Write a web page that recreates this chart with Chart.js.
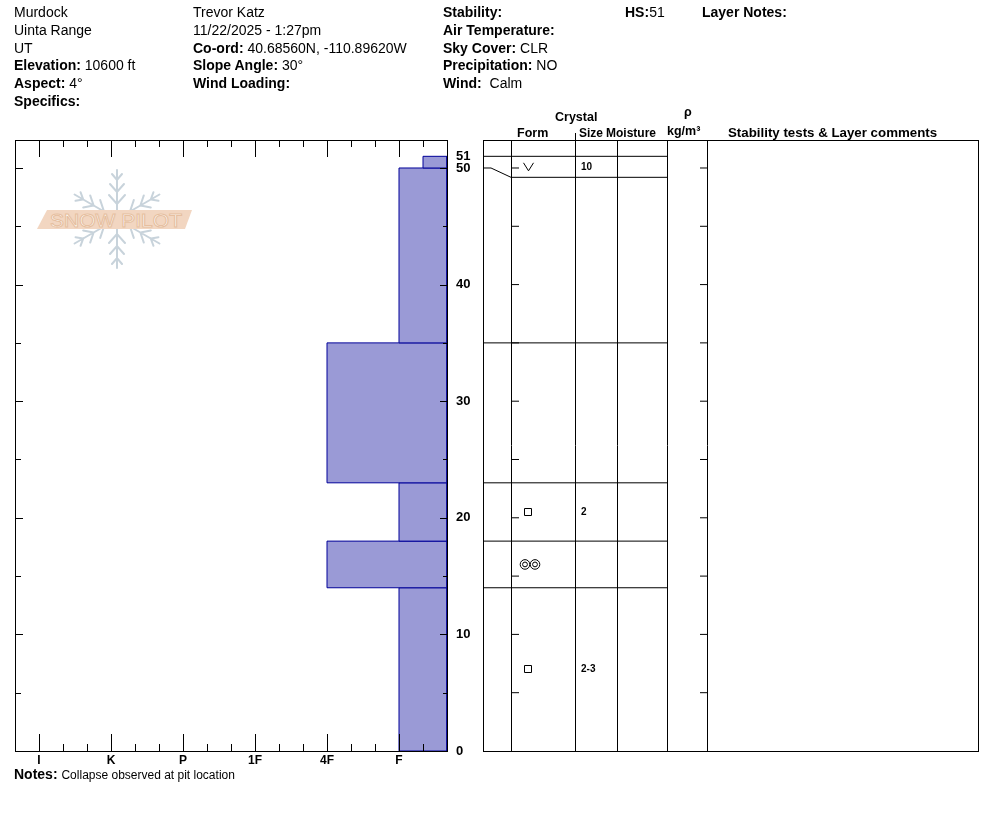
<!DOCTYPE html>
<html>
<head>
<meta charset="utf-8">
<title>Snow profile - Murdock</title>
<script src="https://cdn.jsdelivr.net/npm/chart.js@4.4.0/dist/chart.umd.min.js"></script>
<style>
    body { margin: 0; background: #fff; font-family: "Liberation Sans", Arial, sans-serif; color: #000; }
    #page { position: relative; width: 994px; height: 840px; overflow: hidden; }
    #page canvas, #logo { position: absolute; left: 0; top: 0; }
    .t { position: absolute; font-size: 14px; line-height: 18px; white-space: nowrap; }
    .t b { font-weight: bold; }
    .h { position: absolute; font-size: 12.5px; font-weight: bold; line-height: 14px; white-space: nowrap; }
    .notes-text { font-size: 12px; }
</style>
</head>
<body>
<div id="page">
    <svg id="logo" width="994" height="840">
        <defs>
            <g id="arm" stroke="#c8d3db" stroke-width="2" fill="none" stroke-linecap="round">
                <path d="M0 -6 L0 -49 M-8 -24 L0 -15 L8 -24 M-7 -35 L0 -27 L7 -35 M-5 -45 L0 -39 L5 -45"/>
            </g>
        </defs>
        <g transform="translate(117 219)">
            <use href="#arm"/>
            <use href="#arm" transform="rotate(60)"/>
            <use href="#arm" transform="rotate(120)"/>
            <use href="#arm" transform="rotate(180)"/>
            <use href="#arm" transform="rotate(240)"/>
            <use href="#arm" transform="rotate(300)"/>
        </g>
        <polygon points="47,210 192,210 185,229 37,229" fill="#f2d6c1"/>
        <text x="116" y="227" text-anchor="middle" font-family="Liberation Sans" font-size="18" fill="#fff"
              stroke="#e6bfa0" stroke-width="1" textLength="132" lengthAdjust="spacingAndGlyphs">SNOW PILOT</text>
    </svg>

    <canvas id="hardnessChart" width="994" height="840"></canvas>
    <canvas id="tableChart" width="994" height="840"></canvas>

    <!-- header block -->
    <div class="t" style="left:14px; top:3px;">Murdock</div>
    <div class="t" style="left:14px; top:21px;">Uinta Range</div>
    <div class="t" style="left:14px; top:39px;">UT</div>
    <div class="t" style="left:14px; top:56px;"><b>Elevation:</b> 10600 ft</div>
    <div class="t" style="left:14px; top:74px;"><b>Aspect:</b> 4°</div>
    <div class="t" style="left:14px; top:92px;"><b>Specifics:</b></div>

    <div class="t" style="left:193px; top:3px;">Trevor Katz</div>
    <div class="t" style="left:193px; top:21px;">11/22/2025 - 1:27pm</div>
    <div class="t" style="left:193px; top:39px;"><b>Co-ord:</b> 40.68560N, -110.89620W</div>
    <div class="t" style="left:193px; top:56px;"><b>Slope Angle:</b> 30°</div>
    <div class="t" style="left:193px; top:74px;"><b>Wind Loading:</b></div>

    <div class="t" style="left:443px; top:3px;"><b>Stability:</b></div>
    <div class="t" style="left:443px; top:21px;"><b>Air Temperature:</b></div>
    <div class="t" style="left:443px; top:39px;"><b>Sky Cover:</b> CLR</div>
    <div class="t" style="left:443px; top:56px;"><b>Precipitation:</b> NO</div>
    <div class="t" style="left:443px; top:74px;"><b>Wind:</b>&nbsp; Calm</div>

    <div class="t" style="left:625px; top:3px;"><b>HS:</b>51</div>
    <div class="t" style="left:702px; top:3px;"><b>Layer Notes:</b></div>

    <!-- table column headers -->
    <div class="h" style="left:555px; top:110px;">Crystal</div>
    <div class="h" style="left:517px; top:126px;">Form</div>
    <div class="h" style="left:579px; top:126px; font-size:12px;">Size</div>
    <div class="h" style="left:606px; top:126px; font-size:12px;">Moisture</div>
    <div class="h" style="left:684px; top:105px;">ρ</div>
    <div class="h" style="left:667px; top:124px;">kg/m³</div>
    <div class="h" style="left:728px; top:126px; font-size:13.3px;">Stability tests &amp; Layer comments</div>
    <div style="position:absolute; left:575px; top:133px; width:1px; height:7px; background:#000;"></div>

    <div class="t" style="left:14px; top:765px;"><b>Notes:</b> <span class="notes-text">Collapse observed at pit location</span></div>
</div>

<script>
// hand hardness in sub-steps: F- = 1, F = 2, F+ = 3, 4F- = 4 ...
const hardnessTicks = [2, 5, 8, 11, 14, 17];
const hardnessLabels = ['F', '4F', '1F', 'P', 'K', 'I'];
const hardnessMax = 18;

// layers, top to bottom, heights in cm above ground
const layerTop = [51, 50, 35, 23, 18, 14];
const layerBottom = [50, 35, 23, 18, 14, 0];
const layerHardness = [1, 2, 5, 2, 5, 2];   // F-, F, 4F, F, 4F, F
const layerForm = ['SH', '', '', 'FC', 'MFcr', 'FC'];
const layerSize = ['10', '', '', '2', '', '2-3'];

// lower edge of each row in the table (top row is stretched to fit its text)
const rowBottom = [49.2, 35, 23, 18, 14, 0];

const depthTicks = [0, 10, 20, 30, 40, 50, 51];
const depthMinor = [5, 10, 15, 20, 25, 30, 35, 40, 45, 50];
const plotTop = 52.4;

// table column edges, px from the left side of the table
const tableColumns = [28, 92, 134, 184, 224];
const tableWidth = 495;

const FONT = '"Liberation Sans", Arial, sans-serif';
Chart.defaults.font.family = FONT;
Chart.defaults.color = '#000';

// ---------- hardness profile ----------
const hardnessFrame = {
    id: 'hardnessFrame',
    afterDraw(chart) {
        const { ctx, chartArea: a, scales: { x, y } } = chart;
        ctx.save();
        ctx.strokeStyle = '#000';
        ctx.lineWidth = 1;
        ctx.beginPath();
        for (let v = 1; v < hardnessMax; v++) {
            const px = Math.round(x.getPixelForValue(v)) + 0.5;
            const len = hardnessTicks.includes(v) ? 17 : 7;
            ctx.moveTo(px, a.top); ctx.lineTo(px, a.top + len);
            ctx.moveTo(px, a.bottom); ctx.lineTo(px, a.bottom - len);
        }
        depthMinor.forEach(v => {
            const py = Math.round(y.getPixelForValue(v)) + 0.5;
            const major = v % 10 === 0;
            ctx.moveTo(a.left, py); ctx.lineTo(a.left + (major ? 8 : 6), py);
            ctx.moveTo(a.right, py); ctx.lineTo(a.right - (major ? 7 : 4), py);
        });
        ctx.stroke();
        ctx.strokeRect(Math.round(a.left) + 0.5, Math.round(a.top) + 0.5,
            Math.round(a.right - a.left), Math.round(a.bottom - a.top));
        ctx.restore();
    }
};

const layerSets = layerTop.map((top, i) => ({
    data: [
        { x: 0, y: layerBottom[i] },
        { x: layerHardness[i], y: layerBottom[i] },
        { x: layerHardness[i], y: top },
        { x: 0, y: top },
        { x: 0, y: layerBottom[i] }
    ],
    borderColor: '#000099',
    borderWidth: 1,
    backgroundColor: '#9a9ad6',
    fill: 'shape',
    pointRadius: 0,
    tension: 0
}));

new Chart(document.getElementById('hardnessChart'), {
    type: 'line',
    data: { datasets: layerSets },
    plugins: [hardnessFrame],
    options: {
        responsive: false,
        animation: false,
        layout: { padding: { left: 15, top: 140, right: 507, bottom: 67 } },
        plugins: { legend: { display: false }, tooltip: { enabled: false } },
        scales: {
            x: {
                type: 'linear',
                reverse: true,
                min: 0, max: hardnessMax,
                afterBuildTicks: s => { s.ticks = hardnessTicks.map(v => ({ value: v })); },
                afterFit: s => { s.height = 22; },
                grid: { display: false, drawTicks: false },
                border: { display: false },
                ticks: {
                    autoSkip: false, maxRotation: 0, padding: 2,
                    font: { size: 12, weight: 'bold' },
                    callback: v => hardnessLabels[hardnessTicks.indexOf(v)]
                }
            },
            y: {
                type: 'linear',
                position: 'right',
                min: 0, max: plotTop,
                afterBuildTicks: s => { s.ticks = depthTicks.map(v => ({ value: v })); },
                afterFit: s => { s.width = 40; },
                grid: { display: false, drawTicks: false },
                border: { display: false },
                ticks: {
                    autoSkip: false, padding: 9,
                    font: { size: 13, weight: 'bold' },
                    callback: v => String(v)
                }
            }
        }
    }
});

// ---------- layer table ----------
const rowSets = [];
const lineStyle = { borderColor: '#000', borderWidth: 1, pointRadius: 0, fill: false, tension: 0 };
rowSets.push({ ...lineStyle, data: [{ x: 0, y: layerTop[0] }, { x: tableColumns[3], y: layerTop[0] }] });
rowBottom.forEach((rb, i) => {
    if (rb === 0) return;
    if (rb !== layerBottom[i]) {
        rowSets.push({ ...lineStyle, data: [
            { x: 0, y: layerBottom[i] }, { x: 8, y: layerBottom[i] }, { x: tableColumns[0], y: rb }
        ] });
        rowSets.push({ ...lineStyle, data: [{ x: tableColumns[0], y: rb }, { x: tableColumns[3], y: rb }] });
    } else {
        rowSets.push({ ...lineStyle, data: [{ x: 0, y: rb }, { x: tableColumns[3], y: rb }] });
    }
});
// depth ticks along the Form column and the density column
const tickStyle = { showLine: false, pointStyle: 'line', pointBorderColor: '#000', pointBorderWidth: 1 };
rowSets.push({ ...tickStyle, pointRadius: 4, data: depthMinor.map(v => ({ x: tableColumns[0] + 4, y: v })) });
rowSets.push({ ...tickStyle, pointRadius: 3.5, data: depthMinor.map(v => ({ x: tableColumns[4] - 3.5, y: v })) });

function drawForm(ctx, code, cx, cy) {
    ctx.beginPath();
    if (code === 'SH') {
        ctx.moveTo(cx - 4.5, cy - 4); ctx.lineTo(cx + 0.5, cy + 4); ctx.lineTo(cx + 5.5, cy - 4);
    } else if (code === 'FC') {
        ctx.rect(Math.round(cx - 4) + 0.5, Math.round(cy - 4) + 0.5, 7, 7);
    } else if (code === 'MFcr') {
        [cx - 3, cx + 7].forEach(c => {
            ctx.moveTo(c + 4.8, cy); ctx.arc(c, cy, 4.8, 0, Math.PI * 2);
            ctx.moveTo(c + 2.4, cy); ctx.arc(c, cy, 2.4, 0, Math.PI * 2);
        });
    }
    ctx.stroke();
}

const tableMarks = {
    id: 'tableMarks',
    afterDraw(chart) {
        const { ctx, chartArea: a, scales: { x, y } } = chart;
        ctx.save();
        ctx.strokeStyle = '#000';
        ctx.fillStyle = '#000';
        ctx.lineWidth = 1;
        ctx.strokeRect(Math.round(a.left) + 0.5, Math.round(a.top) + 0.5,
            Math.round(a.right - a.left), Math.round(a.bottom - a.top));
        ctx.font = 'bold 10px ' + FONT;
        ctx.textBaseline = 'middle';
        layerTop.forEach((top, i) => {
            const rowTop = i === 0 ? top : rowBottom[i - 1];
            const mid = y.getPixelForValue((rowTop + rowBottom[i]) / 2);
            drawForm(ctx, layerForm[i], x.getPixelForValue(45), mid);
            if (layerSize[i]) ctx.fillText(layerSize[i], x.getPixelForValue(98), mid);
        });
        ctx.restore();
    }
};

new Chart(document.getElementById('tableChart'), {
    type: 'line',
    data: { datasets: rowSets },
    plugins: [tableMarks],
    options: {
        responsive: false,
        animation: false,
        layout: { padding: { left: 483, top: 140, right: 16, bottom: 89 } },
        plugins: { legend: { display: false }, tooltip: { enabled: false } },
        scales: {
            x: {
                type: 'linear',
                min: 0, max: tableWidth,
                afterBuildTicks: s => { s.ticks = tableColumns.map(v => ({ value: v })); },
                afterFit: s => { s.height = 0; },
                grid: { color: '#000', lineWidth: 1, drawTicks: false },
                border: { display: false },
                ticks: { display: false }
            },
            y: {
                type: 'linear',
                display: false,
                min: 0, max: plotTop
            }
        }
    }
});
</script>
</body>
</html>
